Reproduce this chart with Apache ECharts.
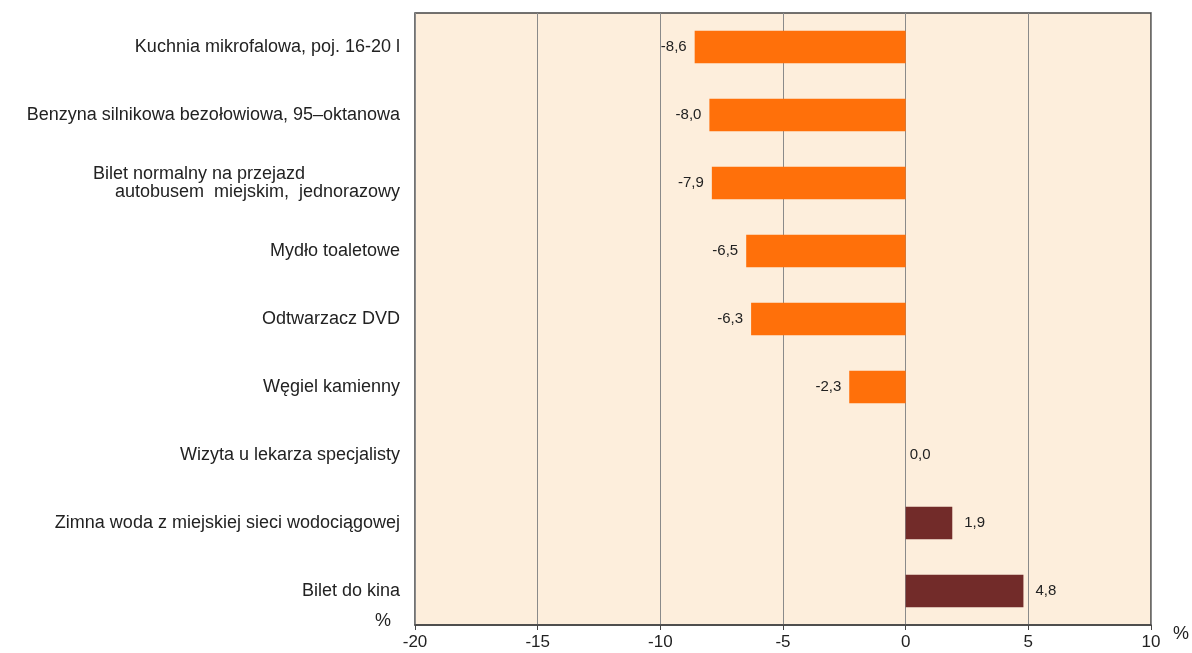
<!DOCTYPE html>
<html>
<head>
<meta charset="utf-8">
<script src="https://cdn.jsdelivr.net/npm/echarts@6/dist/echarts.min.js"></script>
<style>
html,body{margin:0;padding:0;background:#fff;}
#c{width:1192px;height:653px;}
</style>
</head>
<body>
<div id="c"></div>
<script>
var categories = [
  "Kuchnia mikrofalowa, poj. 16-20 l",
  "Benzyna silnikowa bezołowiowa, 95–oktanowa",
  "Bilet normalny na przejazd\nautobusem  miejskim,  jednorazowy",
  "Mydło toaletowe",
  "Odtwarzacz DVD",
  "Węgiel kamienny",
  "Wizyta u lekarza specjalisty",
  "Zimna woda z miejskiej sieci wodociągowej",
  "Bilet do kina"
];
var values = [-8.6, -8.0, -7.9, -6.5, -6.3, -2.3, 0.0, 1.9, 4.8];
var xTicks = { min: -20, max: 10, interval: 5 };
var unitLabel = "%";

var FONT = '"Liberation Sans", Arial, sans-serif';
var chart = echarts.init(document.getElementById('c'));

var seriesData = values.map(function (v) {
  return {
    value: v,
    itemStyle: { color: v < 0 ? '#FF700A' : '#722B29' },
    label: { position: v < 0 ? 'left' : 'right', distance: v === 0 ? 4 : (v < 0 ? 8 : 12) }
  };
});

chart.setOption({
  animation: false,
  grid: {
    left: 415, right: 33, top: 13, bottom: 28,
    show: true, backgroundColor: '#FDEEDC', borderColor: '#444', borderWidth: 1.5
  },
  xAxis: {
    type: 'value',
    min: xTicks.min, max: xTicks.max, interval: xTicks.interval,
    name: unitLabel, nameLocation: 'end', nameGap: 22,
    nameTextStyle: { fontFamily: FONT, fontSize: 18, color: '#222', verticalAlign: 'top', padding: [0, 0, 0, 0] },
    axisLine: { show: true, lineStyle: { color: '#444', width: 1.5 } },
    axisTick: { show: true, length: 5, lineStyle: { color: '#444' } },
    axisLabel: { fontFamily: FONT, fontSize: 17, color: '#222', margin: 9 },
    splitLine: { show: true, lineStyle: { color: '#8a8a8a', width: 1 } }
  },
  yAxis: {
    type: 'category',
    inverse: true,
    data: categories,
    axisLine: { show: false },
    axisTick: { show: false },
    axisLabel: {
      margin: 15,
      fontFamily: FONT, fontSize: 18, color: '#222',
      formatter: function (val) {
        if (val.indexOf('\n') >= 0) {
          var p = val.split('\n');
          return '{a|' + p[0] + '}\n{b|' + p[1] + '}';
        }
        return val;
      },
      rich: {
        a: { fontFamily: FONT, fontSize: 18, color: '#222', padding: [0, 95, 0, 0], lineHeight: 18 },
        b: { fontFamily: FONT, fontSize: 18, color: '#222', lineHeight: 18 }
      }
    },
    splitLine: { show: false }
  },
  graphic: [{
    type: 'text', left: 375, top: 612,
    style: { text: unitLabel, font: '18px ' + FONT, fill: '#222' }
  }],
  series: [{
    type: 'bar',
    data: seriesData,
    barWidth: '48%',
    label: {
      show: true,
      fontFamily: FONT, fontSize: 15, color: '#222',
      formatter: function (p) { return p.value.toFixed(1).replace('.', ','); }
    }
  }]
});
</script>
</body>
</html>
